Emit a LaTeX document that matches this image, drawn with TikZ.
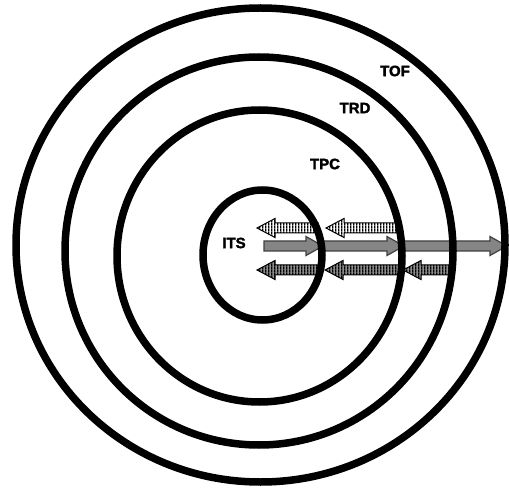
\documentclass[tikz,border=0pt]{standalone}
\usepackage{fontspec}
\setmainfont{Liberation Sans}[BoldFeatures={FakeBold=2}]
\usetikzlibrary{patterns.meta}
\tikzdeclarepattern{name=vstripes, type=uncolored,
  bounding box={(0pt,0pt) and (3.2pt,3.2pt)}, tile size={(3.2pt,3.2pt)},
  code={\pgfpathrectangle{\pgfpointorigin}{\pgfpoint{1.6pt}{3.2pt}}\pgfusepath{fill}}}
% #1 style, #2 tail x, #3 tip x, #4 y, #5 signed head length
\newcommand\flatarrow[5]{%
  \draw[#1] (#3,#4) -- (#3+#5,#4-9.5) -- (#3+#5,#4-5) -- (#2,#4-5)
    -- (#2,#4+5) -- (#3+#5,#4+5) -- (#3+#5,#4+9.5) -- cycle;}
\begin{document}
\begin{tikzpicture}[x=1pt,y=-1pt,
  ring/.style={line width=7.5pt, draw=black},
  solidarr/.style={draw=black!75, line width=1.2pt, fill=black!48},
  whitearr/.style={draw=black, line width=1pt, preaction={fill=white}, pattern=vstripes, pattern color=black},
  grayarr/.style={draw=black, line width=1pt, preaction={fill=black!45}, pattern=vstripes, pattern color=black},
  lbl/.style={font=\bfseries\fontsize{15}{15}\selectfont, inner sep=0pt}]
\useasboundingbox (0,0) rectangle (509,489);
\fill[white] (0,0) rectangle (509,489);
% arrows
\flatarrow{whitearr}{318}{257}{228}{18}
\flatarrow{whitearr}{399}{326}{228}{18}
\flatarrow{grayarr}{318}{257}{270}{18}
\flatarrow{grayarr}{403}{325}{270}{18}
\flatarrow{grayarr}{453}{403}{270}{18}
\flatarrow{solidarr}{264}{323}{246}{-17}
\flatarrow{solidarr}{323}{404}{246}{-17}
\flatarrow{solidarr}{404}{507}{246}{-17}
% rings
\draw[ring] (260.5,245) ellipse [x radius=244.5, y radius=237];
\draw[ring] (259,251) ellipse [x radius=194, y radius=194];
\draw[ring] (259.5,256) ellipse [x radius=142.5, y radius=146];
\draw[ring] (262.5,255) ellipse [x radius=59.5, y radius=65];
% labels
\node[lbl] (tof) at (395,71) {TOF};
\node[lbl] (trd) at (355,108) {TRD};
\node[lbl] (tpc) at (325,164) {TPC};
\node[lbl] (its) at (234,243) {ITS};
\end{tikzpicture}
\end{document}
